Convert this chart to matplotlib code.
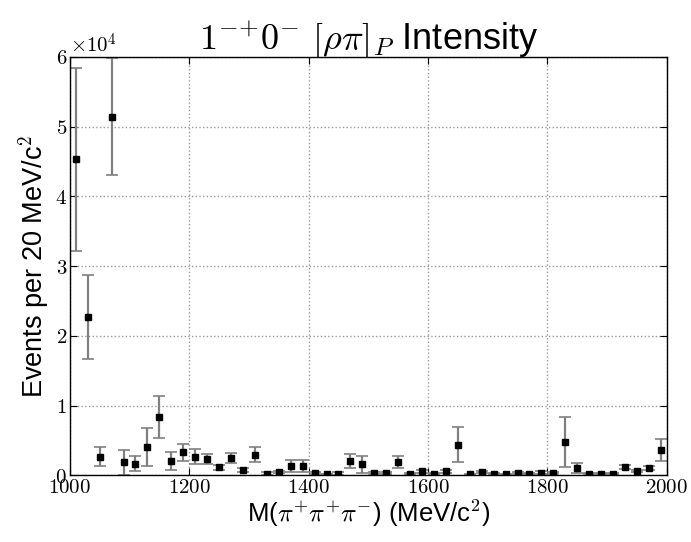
import numpy as np
import matplotlib
matplotlib.use("Agg")
import matplotlib.pyplot as plt
from matplotlib.ticker import FuncFormatter, MultipleLocator

plt.rcParams['mathtext.fontset'] = 'cm'
plt.rcParams['font.family'] = ['Liberation Sans', 'DejaVu Sans']

# bin centres, 20 MeV bins
mass = np.arange(1010, 2000, 20)

# intensity in units of 1e4 events
intensity = [4.53, 2.275, 0.27, 5.14, 0.19, 0.166, 0.41, 0.837, 0.203, 0.33,
             0.27, 0.232, 0.113, 0.25, 0.08, 0.293, 0.024, 0.047, 0.128, 0.137,
             0.033, 0.014, 0.024, 0.203, 0.156, 0.033, 0.033, 0.19, 0.024, 0.057,
             0.024, 0.057, 0.44, 0.014, 0.047, 0.024, 0.014, 0.033, 0.024, 0.04,
             0.033, 0.473, 0.104, 0.024, 0.024, 0.024, 0.118, 0.061, 0.104, 0.364]
errors = [1.31, 0.60, 0.14, 0.84, 0.18, 0.11, 0.27, 0.30, 0.13, 0.12,
          0.107, 0.067, 0.03, 0.074, 0.03, 0.107, 0.02, 0.02, 0.086, 0.084,
          0.02, 0.01, 0.02, 0.10, 0.12, 0.02, 0.02, 0.09, 0.01, 0.02,
          0.01, 0.02, 0.25, 0.01, 0.02, 0.01, 0.01, 0.02, 0.01, 0.02,
          0.02, 0.36, 0.075, 0.01, 0.01, 0.01, 0.03, 0.02, 0.03, 0.155]

y = np.array(intensity) * 1e4
yerr = np.array(errors) * 1e4

fig = plt.figure(figsize=(6.91, 5.42), dpi=100)
ax = fig.add_axes([0.101, 0.123, 0.864, 0.772])

ax.errorbar(mass, y, yerr=yerr, fmt='none', ecolor='#808080', elinewidth=1.6,
            capsize=4, capthick=1.2, zorder=2)
ax.plot(mass, y, 's', color='black', markersize=5, zorder=3)

ax.set_xlim(1000, 2000)
ax.set_ylim(0, 6e4)
ax.xaxis.set_major_locator(MultipleLocator(200))
ax.yaxis.set_major_locator(MultipleLocator(1e4))
ax.xaxis.set_major_formatter(FuncFormatter(lambda v, p: r'$%d$' % v))
ax.yaxis.set_major_formatter(FuncFormatter(lambda v, p: r'$%d$' % round(v / 1e4)))
ax.tick_params(direction='in', top=True, right=True, labelsize=15, length=5, pad=2)
ax.grid(True, linestyle=':', color='#999999', linewidth=1.0)
ax.set_axisbelow(True)
for s in ax.spines.values():
    s.set_linewidth(1.0)

ax.text(0.0, 1.0, r'$\times10^{4}$', transform=ax.transAxes, fontsize=15,
        va='bottom', ha='left')

ax.set_title(r'$1^{{-}{+}}0^{-}\ [\rho\pi]_P$ Intensity', fontsize=26, pad=5)
ax.set_xlabel(r'M($\pi^{+}\pi^{+}\pi^{-}$) (MeV/c$^2$)', fontsize=18.5, labelpad=0)
ax.set_ylabel(r'Events per 20 MeV/c$^2$', fontsize=19.5, labelpad=2)

fig.savefig('out.png', dpi=100)
